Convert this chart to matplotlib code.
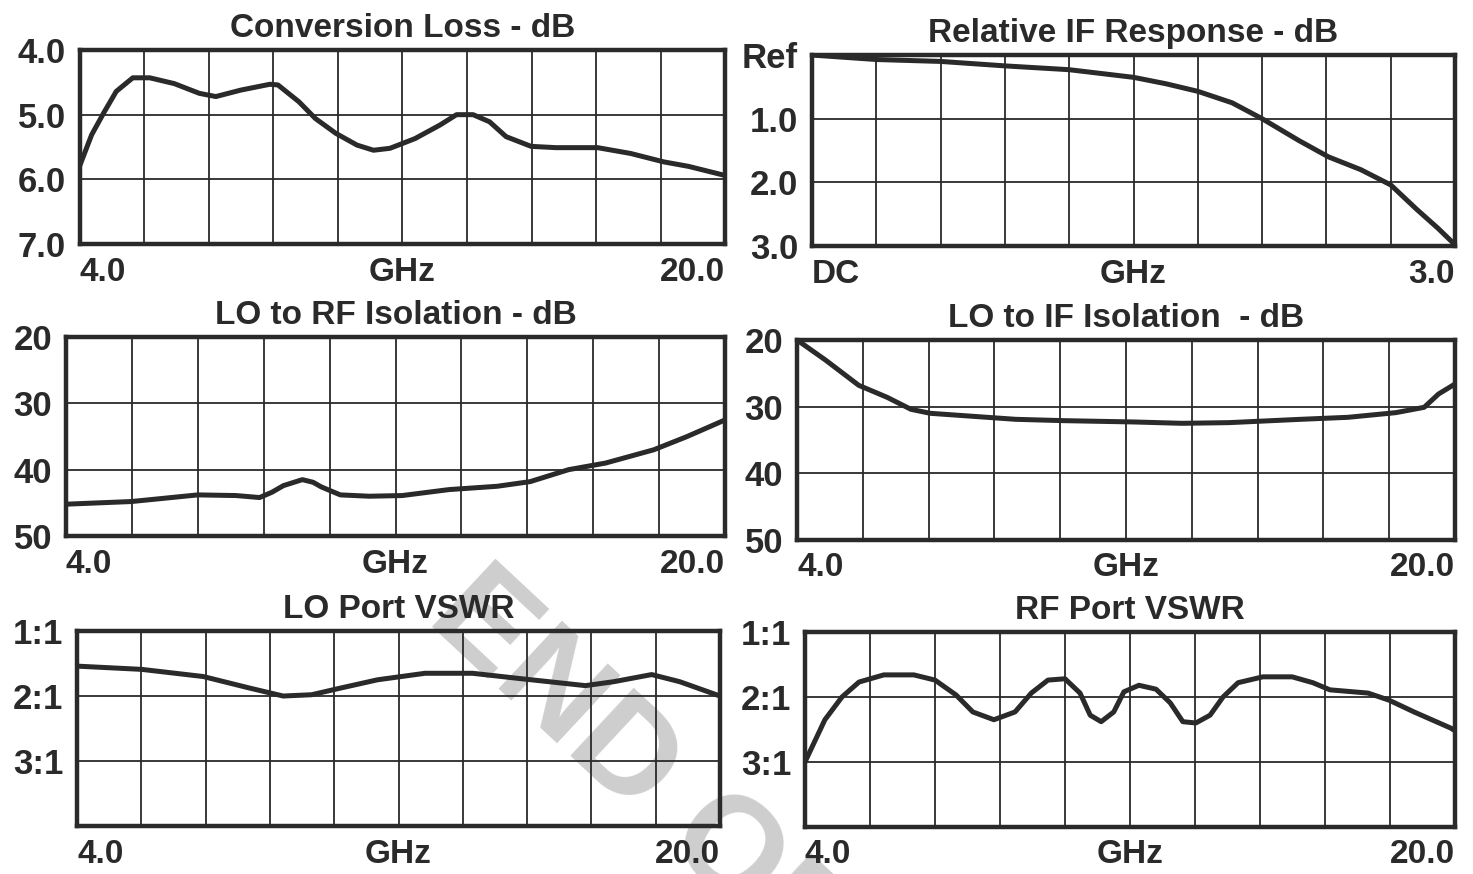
import matplotlib
matplotlib.use("Agg")
import matplotlib.pyplot as plt
import numpy as np

plt.rcParams["font.family"] = ["Liberation Sans", "DejaVu Sans"]

INK = "#2a2a2a"

# Conversion loss (dB) vs RF frequency (GHz)
cl_ghz = [4.0, 4.29, 4.6, 4.9, 5.31, 5.73, 6.34, 6.96, 7.37, 7.99, 8.71, 8.91,
          9.43, 9.84, 10.35, 10.87, 11.28, 11.69, 12.31, 12.93, 13.34, 13.75,
          14.16, 14.57, 15.19, 15.81, 16.84, 17.66, 18.48, 19.1, 20.0]
cl_db = [5.78, 5.31, 4.96, 4.64, 4.43, 4.43, 4.52, 4.67, 4.72, 4.62, 4.53, 4.54,
         4.80, 5.06, 5.29, 5.47, 5.55, 5.52, 5.37, 5.16, 5.00, 5.00,
         5.11, 5.34, 5.49, 5.51, 5.51, 5.60, 5.73, 5.80, 5.94]

# Relative IF response (dB) vs IF frequency (GHz)
if_ghz = [0.0, 0.3, 0.6, 0.9, 1.2, 1.5, 1.65, 1.8, 1.96, 2.1, 2.27, 2.41, 2.56,
          2.7, 2.82, 2.92, 3.0]
if_db = [0.0, 0.07, 0.10, 0.17, 0.23, 0.35, 0.45, 0.57, 0.75, 1.0, 1.34, 1.60,
         1.80, 2.04, 2.42, 2.72, 2.98]

# LO to RF isolation (dB)
lorf_ghz = [4.0, 5.59, 7.2, 8.13, 8.7, 9.0, 9.28, 9.74, 10.0, 10.2, 10.66,
            11.36, 12.16, 13.3, 14.47, 15.27, 16.2, 17.1, 18.27, 19.08, 20.0]
lorf_db = [45.2, 44.8, 43.8, 43.9, 44.2, 43.4, 42.4, 41.5, 41.9, 42.6, 43.8,
           44.0, 43.9, 43.0, 42.5, 41.8, 40.0, 39.0, 37.0, 35.0, 32.5]

# LO to IF isolation (dB)
loif_ghz = [4.0, 4.69, 5.5, 6.19, 6.77, 7.24, 8.16, 9.31, 10.47, 12.2, 13.36,
            14.5, 16.25, 17.4, 18.56, 19.25, 19.6, 20.0]
loif_db = [20.0, 23.0, 26.8, 28.6, 30.4, 31.0, 31.4, 31.9, 32.1, 32.3, 32.5,
           32.4, 31.9, 31.6, 30.9, 30.1, 28.1, 26.6]

# LO port VSWR (x:1)
lovswr_ghz = [4.0, 5.61, 7.14, 8.31, 9.13, 9.84, 10.54, 11.48, 12.66, 13.84,
              15.0, 16.65, 17.35, 18.3, 19.0, 20.0]
lovswr = [1.54, 1.59, 1.70, 1.88, 2.0, 1.98, 1.88, 1.75, 1.65, 1.65,
          1.73, 1.84, 1.78, 1.67, 1.78, 2.0]

# RF port VSWR (x:1)
rfvswr_ghz = [4.0, 4.49, 4.91, 5.33, 5.94, 6.68, 7.2, 7.72, 8.13, 8.65, 9.17,
              9.57, 9.98, 10.4, 10.77, 11.02, 11.29, 11.6, 11.85, 12.22, 12.64,
              12.99, 13.3, 13.62, 13.97, 14.29, 14.66, 15.27, 15.99, 16.5,
              16.92, 17.86, 18.38, 18.99, 19.9, 20.0]
rfvswr = [3.0, 2.35, 2.0, 1.77, 1.66, 1.66, 1.74, 1.97, 2.23, 2.35, 2.23,
          1.94, 1.74, 1.72, 1.94, 2.28, 2.38, 2.23, 1.92, 1.82, 1.88,
          2.09, 2.38, 2.40, 2.28, 2.0, 1.78, 1.69, 1.69, 1.78,
          1.89, 1.94, 2.05, 2.23, 2.48, 2.52]


def draw_panel(ax, x, y, xlim, ylim, yticks, ylabels, xlabels, title):
    """Draw one datasheet-style panel with a 10 column grid."""
    ax.set_facecolor("none")
    ax.plot(x, y, color=INK, linewidth=3.6, solid_joinstyle="round", zorder=3)
    ax.set_xlim(*xlim)
    ax.set_ylim(ylim[1], ylim[0])

    ax.set_xticks([xlim[0], (xlim[0] + xlim[1]) / 2, xlim[1]], xlabels)
    ax.set_xticks(np.linspace(xlim[0], xlim[1], 11), minor=True)
    ax.set_yticks(yticks, ylabels)
    ax.grid(True, which="both", color=INK, linewidth=1.3)
    ax.tick_params(which="both", length=0)
    ax.tick_params(axis="y", pad=10, labelsize=25, labelcolor=INK)
    ax.tick_params(axis="x", pad=9, labelsize=24, labelcolor=INK)
    for lbl in ax.get_xticklabels() + ax.get_yticklabels():
        lbl.set_fontweight("bold")
    xl = ax.get_xticklabels()
    xl[0].set_horizontalalignment("left")
    xl[-1].set_horizontalalignment("right")
    for sp in ax.spines.values():
        sp.set_linewidth(3.2)
        sp.set_color(INK)
    ax.set_title(title, fontsize=24, fontweight="bold", color=INK, pad=9.5)


fig = plt.figure(figsize=(14.73, 8.74), dpi=100)

ax1 = fig.add_axes([0.0543, 0.7208, 0.4379, 0.2220])
ax2 = fig.add_axes([0.5513, 0.7185, 0.4365, 0.2185])
ax3 = fig.add_axes([0.0448, 0.3867, 0.4474, 0.2277])
ax4 = fig.add_axes([0.5411, 0.3822, 0.4467, 0.2288])
ax5 = fig.add_axes([0.0523, 0.0549, 0.4365, 0.2231])
ax6 = fig.add_axes([0.5465, 0.0538, 0.4413, 0.2231])

ghz = ["4.0", "GHz", "20.0"]
draw_panel(ax1, cl_ghz, cl_db, (4, 20), (4, 7), [4, 5, 6, 7],
           ["4.0", "5.0", "6.0", "7.0"], ghz, "Conversion Loss - dB")
draw_panel(ax2, if_ghz, if_db, (0, 3), (0, 3), [0, 1, 2, 3],
           ["Ref", "1.0", "2.0", "3.0"], ["DC", "GHz", "3.0"],
           "Relative IF Response - dB")
draw_panel(ax3, lorf_ghz, lorf_db, (4, 20), (20, 50), [20, 30, 40, 50],
           ["20", "30", "40", "50"], ghz, "LO to RF Isolation - dB")
draw_panel(ax4, loif_ghz, loif_db, (4, 20), (20, 50), [20, 30, 40, 50],
           ["20", "30", "40", "50"], ghz, "LO to IF Isolation  - dB")
draw_panel(ax5, lovswr_ghz, lovswr, (4, 20), (1, 4), [1, 2, 3, 4],
           ["1:1", "2:1", "3:1", ""], ghz, "LO Port VSWR")
draw_panel(ax6, rfvswr_ghz, rfvswr, (4, 20), (1, 4), [1, 2, 3, 4],
           ["1:1", "2:1", "3:1", ""], ghz, "RF Port VSWR")

# faint diagonal watermark behind the plots (runs off the bottom edge)
fig.text(0.2880, 0.2900, "END OF LIFE", fontsize=98, fontweight="bold",
         color="#cecece", rotation=-43, rotation_mode="anchor",
         ha="left", va="baseline", zorder=-1)

fig.savefig("out.png", dpi=100)
